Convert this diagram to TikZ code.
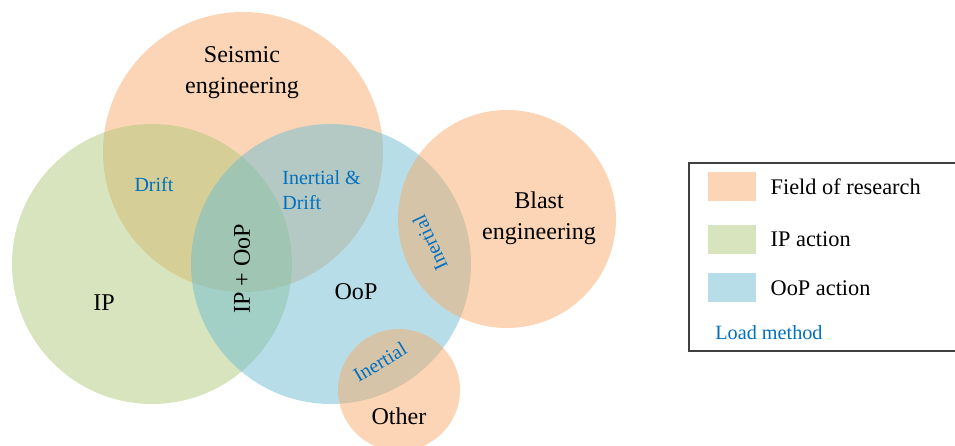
\documentclass[tikz,border=0pt]{standalone}
\usepackage{fontspec}
\setmainfont{Liberation Serif}
\usepackage{xcolor}
\usetikzlibrary{positioning}

\definecolor{fieldc}{RGB}{247,171,107}
\definecolor{ipc}{RGB}{175,201,123}
\definecolor{oopc}{RGB}{111,189,209}
\definecolor{loadc}{RGB}{0,112,192}

\tikzset{
    venn/.style={fill opacity=0.5},
    maintxt/.style={text=black, align=center, inner sep=0pt, font=\fontsize{13.7}{17.6}\selectfont},
    loadtxt/.style={text=loadc, align=left, inner sep=0pt, font=\fontsize{11.4}{14.2}\selectfont},
    legtxt/.style={text=black, anchor=west, inner sep=0pt, font=\fontsize{12.7}{15}\selectfont},
    swatch/.style={minimum width=0.96cm, minimum height=0.58cm, inner sep=0pt, fill opacity=0.5}
}

\begin{document}
\begin{tikzpicture}
    \useasboundingbox (0,0) rectangle (19.1,8.92);

    % Circles
    \fill[venn, fieldc] (4.86,5.88) circle (2.8); % Seismic
    \fill[venn, ipc] (3.04,3.64) circle (2.8); % IP
    \fill[venn, oopc] (6.62,3.64) circle (2.8); % OoP
    \fill[venn, fieldc] (10.14,4.54) circle (2.18); % Blast
    \fill[venn, fieldc] (7.98,1.12) circle (1.22); % Other

    % Fields and actions
    \node[maintxt] (seismic) at (4.84,7.46) {Seismic\\engineering};
    \node[maintxt] (blast) at (10.78,4.56) {Blast\\engineering};
    \node[maintxt] (other) at (7.98,0.6) {Other};
    \node[maintxt] (ip) at (2.08,2.86) {IP};
    \node[maintxt] (oop) at (7.12,3.08) {OoP};
    \node[maintxt, rotate=90] (ipoop) at (4.84,3.54) {IP + OoP};

    % Load methods
    \node[loadtxt] (drift) at (3.08,5.22) {Drift};
    \node[loadtxt, anchor=west] (inertdrift) at (5.64,5.12) {Inertial \&\\Drift};
    \node[loadtxt, rotate=115] (inertblast) at (8.6,4.06) {Inertial};
    \node[loadtxt, rotate=31] (inertother) at (7.6,1.68) {Inertial};

    % Legend
    \draw[black!75, line width=0.6pt] (19.1,5.66) -- (13.78,5.66) -- (13.78,1.9) -- (19.1,1.9);
    \node[swatch, fill=fieldc] (swfield) at (14.64,5.19) {};
    \node[swatch, fill=ipc, below=0.46cm of swfield] (swip) {};
    \node[swatch, fill=oopc, below=0.38cm of swip] (swoop) {};
    \node[legtxt, right=0.28cm of swfield] (legfield) {Field of research};
    \node[legtxt, right=0.28cm of swip] (legip) {IP action};
    \node[legtxt, right=0.28cm of swoop] (legoop) {OoP action};
    \node[loadtxt, font=\fontsize{11.5}{14}\selectfont, anchor=west] (legload) at (14.3,2.26) {Load method};
\end{tikzpicture}
\end{document}
